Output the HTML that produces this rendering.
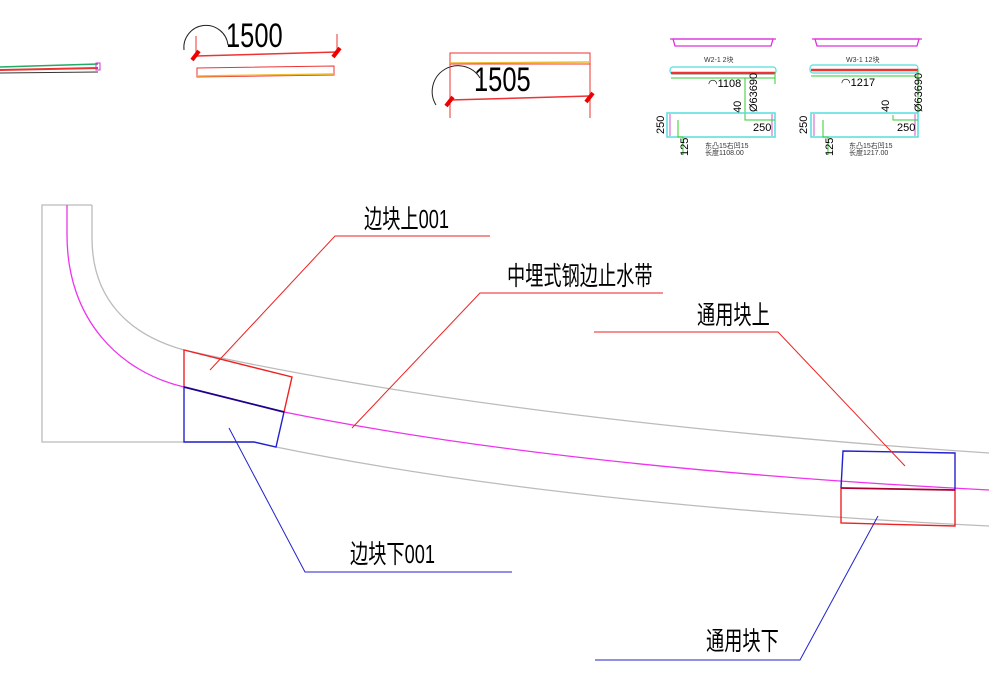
<!DOCTYPE html>
<html><head><meta charset="utf-8"><style>
html,body{margin:0;padding:0;background:#fff;}
svg{display:block;}
path{fill:none;}
.lbl{font-family:"Liberation Sans","Noto Sans CJK SC",sans-serif;font-size:26px;fill:#000;}
.num{font-family:"Liberation Sans",sans-serif;fill:#000;}
.sm{font-family:"Liberation Sans","Noto Sans CJK SC",sans-serif;font-size:7px;fill:#333;}
</style></head><body>
<svg width="989" height="676" viewBox="0 0 989 676" xmlns="http://www.w3.org/2000/svg">
<!-- top left small piece -->
<path d="M0,67 L98,64" stroke="#2a6" stroke-width="1.5"/>
<path d="M0,70 L98,68" stroke="#e33" stroke-width="2"/>
<path d="M0,73 L98,72" stroke="#333" stroke-width="1"/>
<rect x="96" y="63" width="4" height="7" fill="none" stroke="#c3c" stroke-width="1"/>

<!-- 1500 -->
<path d="M184,50 A22,22 0 0 1 228,45" stroke="#222" stroke-width="1"/>
<text class="num" font-size="34" transform="translate(226,47) scale(0.75,1)">1500</text>
<path d="M196,36 L196,56 M337,34 L337,52" stroke="#e33" stroke-width="1"/>
<path d="M196,56 L337,52" stroke="#e33" stroke-width="1.5"/>
<path d="M192,60 L199,51 M333,57 L340,48" stroke="#e00" stroke-width="4"/>
<path d="M197,68 L334,66 L334,75 L197,77 Z" stroke="#e33" stroke-width="1"/>
<path d="M197,76 L334,74" stroke="#eb3" stroke-width="1.5"/>

<!-- 1505 -->
<path d="M450,53 L590,53 L590,64 L450,64 Z" stroke="#e33" stroke-width="1"/>
<path d="M450,63 L590,62" stroke="#eb3" stroke-width="1.5"/>
<path d="M436,105 A22,22 0 0 1 480,78" stroke="#222" stroke-width="1"/>
<text class="num" font-size="34" transform="translate(474,91) scale(0.75,1)">1505</text>
<path d="M450,64 L450,118 M590,64 L590,118" stroke="#e33" stroke-width="1"/>
<path d="M450,100 L590,96" stroke="#e33" stroke-width="1.5"/>
<path d="M446,106 L453,97 M586,102 L593,93" stroke="#e00" stroke-width="4"/>

<!-- top right blocks -->
<g>
<path d="M673,39 L773,39 L771,46 L675,46 Z" stroke="#d3d" stroke-width="1.3"/>
<path d="M670,39 L776,39" stroke="#d3d" stroke-width="1.3"/>
<text class="sm" x="704" y="62">W2-1 2块</text>
<rect x="670" y="67" width="106" height="7" rx="3" fill="none" stroke="#5dd" stroke-width="1.2"/>
<path d="M671,73 L775,73" stroke="#e33" stroke-width="2.5"/>
<path d="M671,78 L775,78 M775,72 L775,84 M745,78 L745,115" stroke="#3c3" stroke-width="1"/>
<text class="num" x="708" y="87" font-size="11">◠1108</text>
<text class="num" font-size="11" transform="translate(757,112) rotate(-90)">Ø63690</text>
<text class="num" font-size="11" transform="translate(741,113) rotate(-90)">40</text>
<rect x="667" y="113" width="108" height="24" fill="none" stroke="#5dd" stroke-width="1.5"/>
<path d="M670,114 L670,136 M772,114 L772,136" stroke="#c5c" stroke-width="1"/>
<path d="M678,120 L678,137 L683,137 L683,155 M745,115 L745,120 L775,120" stroke="#3c3" stroke-width="1"/>
<text class="num" x="753" y="131" font-size="11">250</text>
<text class="num" font-size="11" transform="translate(664,134) rotate(-90)">250</text>
<text class="num" font-size="11" transform="translate(688,156) rotate(-90)">125</text>
<text class="sm" x="705" y="148">东凸15右凹15</text>
<text class="sm" x="705" y="155">长度1108.00</text>
</g>
<g>
<path d="M815,39 L919,39 L917,46 L817,46 Z" stroke="#d3d" stroke-width="1.3"/>
<path d="M812,39 L922,39" stroke="#d3d" stroke-width="1.3"/>
<text class="sm" x="846" y="62">W3-1 12块</text>
<rect x="810" y="65" width="108" height="8" rx="3" fill="none" stroke="#5dd" stroke-width="1.2"/>
<path d="M811,70 L918,70" stroke="#e33" stroke-width="2.5"/>
<path d="M811,76 L918,76 M918,70 L918,115" stroke="#3c3" stroke-width="1"/>
<text class="num" x="841" y="86" font-size="11">◠1217</text>
<text class="num" font-size="11" transform="translate(922,112) rotate(-90)">Ø63690</text>
<text class="num" font-size="11" transform="translate(889,112) rotate(-90)">40</text>
<rect x="811" y="113" width="107" height="24" fill="none" stroke="#5dd" stroke-width="1.5"/>
<path d="M814,114 L814,136 M915,114 L915,136" stroke="#c5c" stroke-width="1"/>
<path d="M823,120 L823,137 L828,137 L828,155 M893,115 L893,120 L918,120" stroke="#3c3" stroke-width="1"/>
<text class="num" x="897" y="131" font-size="11">250</text>
<text class="num" font-size="11" transform="translate(807,134) rotate(-90)">250</text>
<text class="num" font-size="11" transform="translate(833,156) rotate(-90)">125</text>
<text class="sm" x="849" y="148">东凸15右凹15</text>
<text class="sm" x="849" y="155">长度1217.00</text>
</g>

<!-- main gray outline -->
<path d="M92,205 L42,205 L42,442 L254,442" stroke="#bbb" stroke-width="1.3"/>
<path d="M92,205 L92,238 C92,300 130,335 184,350 Q500,420 989,453" stroke="#bbb" stroke-width="1.3"/>
<path d="M254,442 L276,447 Q560,505 989,526" stroke="#bbb" stroke-width="1.3"/>
<!-- magenta -->
<path d="M67,205 L67,235 C67,320 120,372 184,387 L284,412 Q560,468 989,490" stroke="#e3e" stroke-width="1.3"/>

<!-- left blocks -->
<path d="M184,387 L184,350 L292,377 L284,412" stroke="#e22" stroke-width="1.4"/>
<path d="M184,387 L184,442 L254,442 L276,447 L284,412 Z" stroke="#22c" stroke-width="1.4"/>
<path d="M184,387 L284,412" stroke="#208" stroke-width="1.8"/>
<!-- right blocks -->
<path d="M841,488 L843,451 L955,453 L955,490" stroke="#22c" stroke-width="1.4"/>
<path d="M841,488 L841,523 L955,526 L955,490" stroke="#e22" stroke-width="1.4"/>
<path d="M841,488 L955,490" stroke="#a03" stroke-width="1.8"/>

<!-- leaders -->
<path d="M210,370 L335,236 L490,236" stroke="#e22" stroke-width="1"/>
<path d="M352,428 L480,293 L663,293" stroke="#e22" stroke-width="1"/>
<path d="M594,332 L778,332 L905,466" stroke="#e22" stroke-width="1"/>
<path d="M229,428 L305,572 L512,572" stroke="#22c" stroke-width="1"/>
<path d="M595,660 L800,660 L878,516" stroke="#22c" stroke-width="1"/>

<!-- labels -->
<text class="lbl" transform="translate(364,228) scale(0.7,1)">边块上001</text>
<text class="lbl" transform="translate(507,285) scale(0.7,1)">中埋式钢边止水带</text>
<text class="lbl" transform="translate(697,324) scale(0.7,1)">通用块上</text>
<text class="lbl" transform="translate(350,563) scale(0.7,1)">边块下001</text>
<text class="lbl" transform="translate(706,650) scale(0.7,1)">通用块下</text>
</svg>
</body></html>
